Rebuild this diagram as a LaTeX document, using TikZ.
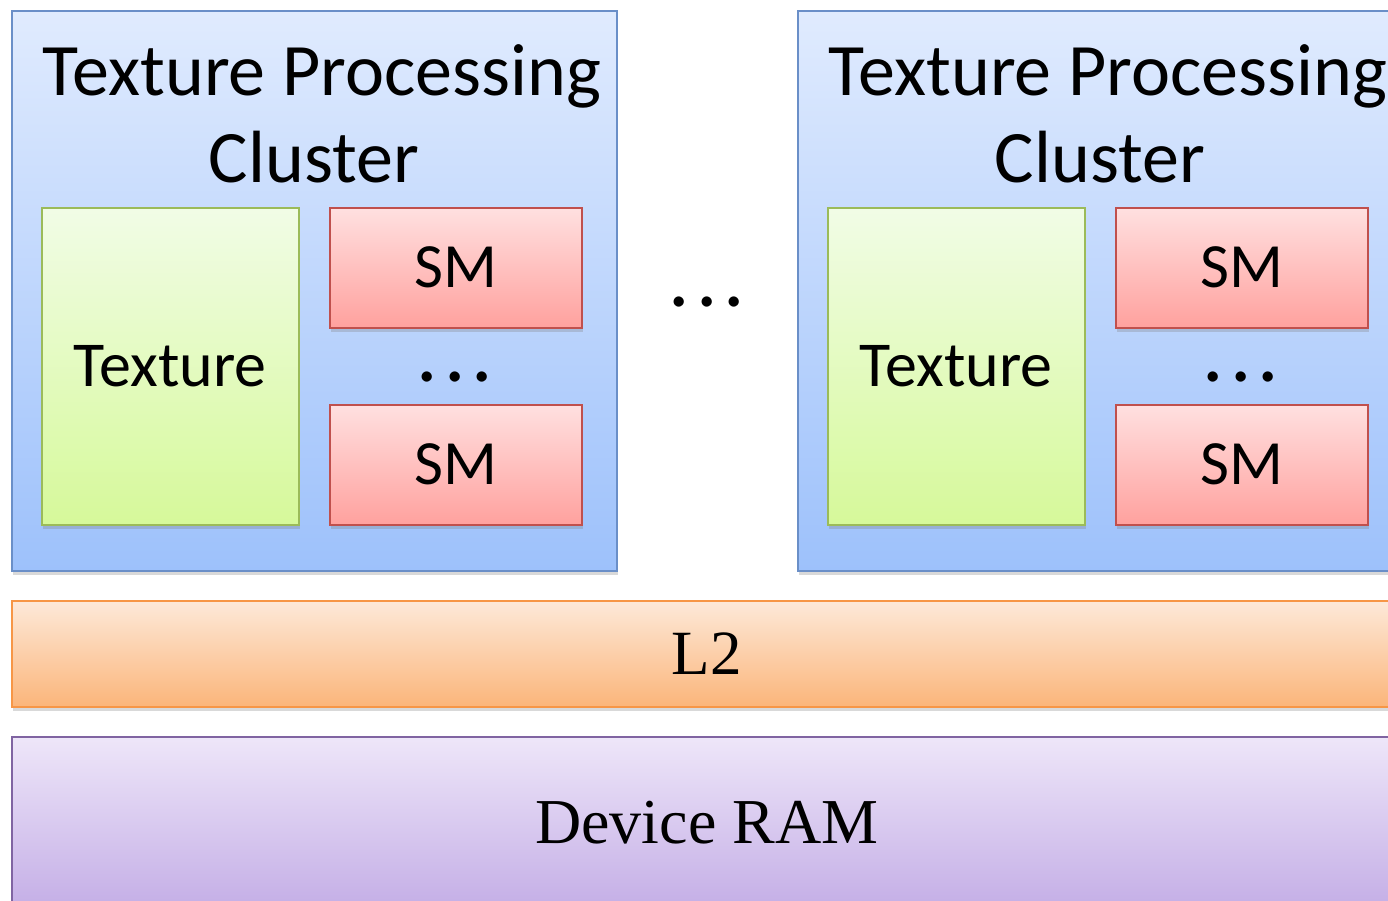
\documentclass[tikz,border=0pt]{standalone}
\usepackage{fontspec}
\setmainfont{Liberation Serif}
\newfontfamily\calibri{Carlito}
\usetikzlibrary{shadows}

\definecolor{tpcline}{HTML}{6A8FC8}
\definecolor{tpctop}{HTML}{E0EBFE}
\definecolor{tpcbot}{HTML}{9DC1FB}
\definecolor{texline}{HTML}{9BBB59}
\definecolor{textop}{HTML}{F1FCE6}
\definecolor{texbot}{HTML}{D6F99A}
\definecolor{smline}{HTML}{C0504D}
\definecolor{smtop}{HTML}{FFE0E0}
\definecolor{smbot}{HTML}{FFA19E}
\definecolor{ltwoline}{HTML}{F79646}
\definecolor{ltwotop}{HTML}{FDE9D9}
\definecolor{ltwobot}{HTML}{FBB57A}
\definecolor{ramline}{HTML}{8064A2}
\definecolor{ramtop}{HTML}{EEE6F9}
\definecolor{rambot}{HTML}{C4AEE6}

\begin{document}
\begin{tikzpicture}[x=1pt,y=-1pt,
    box/.style={draw, line width=1.5pt, anchor=north west, inner sep=0pt,
      drop shadow={opacity=0.3, shadow xshift=1pt, shadow yshift=-4pt}},
    cluster/.style={box, draw=tpcline, top color=tpctop, bottom color=tpcbot,
      minimum width=605pt, minimum height=560pt},
    texunit/.style={box, draw=texline, top color=textop, bottom color=texbot,
      minimum width=257pt, minimum height=317pt,
      font=\calibri\fontsize{64}{64}\selectfont},
    smunit/.style={box, draw=smline, top color=smtop, bottom color=smbot,
      minimum width=252pt, minimum height=120pt,
      font=\calibri\fontsize{63}{63}\selectfont},
    title/.style={align=center, anchor=base, inner sep=0pt,
      font=\calibri\fontsize{74}{87}\selectfont},
    dots/.style={inner sep=0pt, anchor=base, font=\calibri\fontsize{85}{85}\selectfont},
    layer/.style={box, minimum width=1390pt}]
  \useasboundingbox (0,0) rectangle (1388,900);
  \clip (0,0) rectangle (1388,900);
  \newcommand*{\Shift}{786}
  \newcommand*{\Dots}{.\kern6pt.\kern6pt.}
  \newcommand*{\TitleText}{\hspace*{16pt}Texture Processing\\Cluster}
  % left cluster
  \node[cluster] (tpcA) at (11,10) {};
  \node[title] (titleA) at (314,182) {\TitleText};
  \node[texunit] (texA) at (41,207) {Texture};
  \node[smunit] (smAtop) at (329,207) {SM};
  \node[smunit] (smAbot) at (329,404) {SM};
  \node[dots] (dotsA) at (455,381) {\Dots};
  % right cluster
  \node[cluster] (tpcB) at (11+\Shift,10) {};
  \node[title] (titleB) at (314+\Shift,182) {\TitleText};
  \node[texunit] (texB) at (41+\Shift,207) {Texture};
  \node[smunit] (smBtop) at (329+\Shift,207) {SM};
  \node[smunit] (smBbot) at (329+\Shift,404) {SM};
  \node[dots] (dotsB) at (455+\Shift,381) {\Dots};
  \node[dots] (dotsMid) at (707,306) {\Dots};
  % memory
  \node[layer, draw=ltwoline, top color=ltwotop, bottom color=ltwobot,
    minimum height=106pt, font=\fontsize{63}{63}\selectfont] (ltwo) at (11,600) {L2};
  \node[layer, draw=ramline, top color=ramtop, bottom color=rambot,
    minimum height=172pt, font=\fontsize{64}{64}\selectfont] (ram) at (11,736) {Device RAM};
\end{tikzpicture}
\end{document}
